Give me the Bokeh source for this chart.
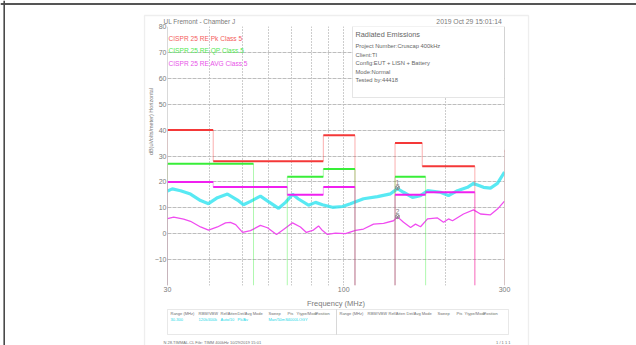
import math
from bokeh.plotting import figure
from bokeh.layouts import column
from bokeh.models import FixedTicker, Label, BoxAnnotation, Span, ColumnDataSource, Range1d
from bokeh.embed import file_html
from bokeh.resources import INLINE

NAN = float("nan")

# ---------------- data ----------------
# CISPR 25 Class 5 limit polylines (MHz, dBuV/m); -20 = drop to plot floor, NaN = break
pk_f  = [30, 30, 41, 41, 87, 87, 108, 108, NAN, 142, 142, 171, 171, 245, 245, NAN, 300, 300, 330]
pk_db = [-20, 40, 40, 28, 28, 38, 38, -20, NAN, -20, 35, 35, 26, 26, -20, NAN, -20, 32, 32]
qp_f  = [30, 30, 54, 54, NAN, 68, 68, 87, 87, 108, 108, NAN, 142, 142, 175, 175]
qp_db = [-20, 27, 27, -20, NAN, -20, 22, 22, 25, 25, -20, NAN, -20, 22, 22, -20]
av_f  = [30, 30, 41, 41, 68, 68, 87, 87, 108, 108, NAN, 142, 142, 175, 175, 245, 245]
av_db = [-20, 20, 20, 18, 18, 15, 15, 18, 18, -20, NAN, -20, 15, 15, 16, 16, -20]

# Peak (cyan) scan
pk_scan_f = [30.0, 31.0, 32.8, 35.1, 37.6, 39.7, 42.2, 45.2, 48.4, 50.4, 52.9, 56.6, 59.8,
             64.1, 67.2, 70.5, 73.4, 78.6, 82.5, 86.5, 92.6, 99.2, 104.7, 114.5, 126.0,
             137.7, 144.4, 150.5, 160.0, 169.0, 177.3, 193.7, 204.6, 217.6, 233.0, 242.7,
             259.9, 272.6, 285.9, 300.0]
pk_scan_db = [16.5, 17.3, 16.6, 15.3, 12.8, 11.6, 13.9, 15.3, 13.0, 11.2, 12.5, 14.5, 12.4,
              9.8, 12.1, 15.2, 13.4, 11.0, 12.1, 11.2, 10.2, 10.5, 11.6, 13.5, 14.3,
              15.4, 17.4, 16.0, 14.0, 14.7, 16.6, 16.0, 14.7, 16.6, 17.9, 19.4,
              17.9, 17.6, 19.4, 23.8]

# Average (magenta) scan
av_scan_f = [30.0, 31.3, 33.5, 35.1, 37.6, 39.7, 42.2, 44.6, 46.1, 47.8, 50.1, 52.9, 56.6,
             59.4, 63.2, 66.3, 70.5, 74.4, 77.5, 81.3, 84.2, 86.5, 89.5, 94.5, 101.2,
             108.4, 114.5, 122.6, 131.3, 140.5, 144.4, 150.5, 157.9, 163.3, 169.0, 177.3,
             189.8, 197.8, 204.6, 210.3, 226.7, 242.7, 254.6, 272.6, 285.9, 300.0]
av_scan_db = [5.8, 6.4, 5.6, 4.8, 2.6, 1.4, 2.6, 4.2, 4.4, 3.5, 0.5, 1.2, 3.2,
              2.3, -0.3, 1.6, 4.2, 2.6, 0.5, 1.4, 3.0, 1.2, -0.3, 0.2, 0.0,
              1.3, 1.8, 3.7, 4.0, 5.0, 6.5, 4.4, 2.4, 3.7, 2.7, 5.7,
              6.1, 4.4, 5.7, 5.0, 7.6, 9.2, 7.6, 7.3, 9.5, 12.6]

# markers
mk_f = [144.4, 144.4]
mk_db = [17.8, 6.6]
mk_txt = ["1", "2"]

x_ticks = [30, 100, 300]
x_grid = [40, 50, 60, 70, 80, 90, 100, 200]
y_ticks = [-10, 0, 10, 20, 30, 40, 50, 60, 70, 80]

legend_txt = ["CISPR 25 RE Pk Class 5", "CISPR 25 RE QP Class 5", "CISPR 25 RE AVG Class 5"]
info_title = "Radiated Emissions"
info_txt = ["Project Number:Cruscap 400kHz", "Client:TI", "Config:EUT + LISN + Battery",
            "Mode:Normal", "Tested by:44418"]
tbl_head = ["Range (MHz)", "RBW/VBW", "Ref/Atten", "Det/Avg Mode", "Sweep", "Pts", "Ytype/Mode", "Position"]
tbl_vals = ["30-300", "120k/400k", "Auto/10", "Pk/Av", "Man/50mS", "4000", "LOGY"]

# ---------------- styling ----------------
RED, GREEN, MAG, CYAN, AVGC = "#f43838", "#38ee38", "#f020f0", "#2ee4f0", "#f04cf0"
GRAY = "#7a7a7a"
FONT = "Liberation Sans"
W, H = 636, 345

# ---------- background figure (page decorations, pixel coordinates) ----------
bg = figure(width=W, height=H, x_range=Range1d(0, W), y_range=Range1d(H, 0),
            output_backend="svg", toolbar_location=None, min_border=0,
            x_axis_location=None, y_axis_location=None, title=None)
bg.frame_align = False
for g in bg.grid:
    g.visible = False
bg.outline_line_color = None
bg.background_fill_color = "white"
bg.border_fill_color = "white"

bg.add_layout(Span(location=3.5, dimension="width", line_color="#1c1c1c", line_width=1.6))
bg.add_layout(Span(location=3.7, dimension="height", line_color="#4a4a4a", line_width=1.6))
bg.add_layout(BoxAnnotation(left=144, right=528, top=15, bottom=400, fill_alpha=0,
                            line_color="#c6c6c6", line_width=1.3))
bg.add_layout(BoxAnnotation(left=167, right=336, top=309, bottom=334, fill_alpha=0,
                            line_color="#b4b4b4", line_width=1))
bg.add_layout(BoxAnnotation(left=336, right=508, top=309, bottom=334, fill_alpha=0,
                            line_color="#b4b4b4", line_width=1))

def blab(x, y, text, size="7px", color=GRAY, align="left", angle=0.0):
    bg.add_layout(Label(x=x, y=y, text=text, text_font=FONT, text_font_size=size,
                        text_color=color, text_align=align, text_baseline="middle", angle=angle))

blab(163, 20.5, "UL Fremont - Chamber J", size="6.5px")
blab(505, 20.5, "2019 Oct 29   15:01:14", size="6.8px", align="right")
blab(150, 121, "dB(uVolts/meter) Horizontal", size="5.5px", angle=math.pi / 2, align="center")
hx1 = [170, 198, 220, 237, 268, 287, 296, 315]
hx2 = [339, 367, 388, 406, 437, 456, 464, 483]
for t, a, b in zip(tbl_head, hx1, hx2):
    blab(a, 312.5, t, size="4px", color="#707070")
    blab(b, 312.5, t, size="4px", color="#707070")
for t, a in zip(tbl_vals, hx1):
    blab(a, 318.5, t, size="4px", color="#20d8e8")
blab(163, 341.5, "N   28.TIMMAL.CL   File: TIMM 400kHz   10/29/2019  15:01", size="4px", color="#707070")
blab(510, 341.5, "1 / 1 1 1", size="4px", color="#707070", align="right")

# ---------- main chart ----------
FR_L, FR_R, FR_T, FR_B = 167, 504, 26, 285
def fx(px):
    return 30 * 10 ** ((px - FR_L) / (FR_R - FR_L))
def fy(py):
    return 80 - (py - FR_T) * 100.0 / (FR_B - FR_T)

p = figure(width=W, height=H, x_axis_type="log", x_range=(30, 300), y_range=(-20, 80),
           output_backend="svg", toolbar_location=None,
           min_border_left=FR_L, min_border_right=W - FR_R,
           min_border_top=FR_T, min_border_bottom=H - FR_B)
p.frame_align = False
p.margin = (-H, 0, 0, 0)
p.outline_line_color = None
p.background_fill_color = "white"
p.border_fill_alpha = 0

p.xaxis.ticker = FixedTicker(ticks=x_ticks)
p.xaxis.major_label_overrides = {t: str(t) for t in x_ticks}
p.yaxis.ticker = FixedTicker(ticks=y_ticks)
for ax in (p.xaxis[0], p.yaxis[0]):
    ax.axis_line_color = None
    ax.major_tick_line_color = None
    ax.minor_tick_line_color = None
    ax.major_tick_out = 0
    ax.major_tick_in = 0
    ax.minor_tick_out = 0
    ax.major_label_text_color = GRAY
    ax.major_label_text_font = FONT
    ax.major_label_text_font_size = "7px"
p.xaxis.major_label_standoff = 1
p.yaxis.major_label_standoff = 1
p.xaxis.axis_label = "Frequency (MHz)"
p.xaxis.axis_label_text_font = FONT
p.xaxis.axis_label_text_font_style = "normal"
p.xaxis.axis_label_text_font_size = "7.5px"
p.xaxis.axis_label_text_color = GRAY
p.xaxis.axis_label_standoff = 4

p.xgrid.ticker = FixedTicker(ticks=x_grid)
p.xgrid.grid_line_color = "#9a9a9a"
p.xgrid.grid_line_dash = "1 2"
p.ygrid.ticker = FixedTicker(ticks=y_ticks)
p.ygrid.grid_line_color = "#bdbdbd"
p.ygrid.grid_line_dash = "4 1"

p.add_layout(Span(location=30, dimension="height", line_color="#b4b4b4", line_width=1))
p.add_layout(Span(location=300, dimension="height", line_color="#b4b4b4", line_width=1))

# info box (covers grid)
p.add_layout(BoxAnnotation(left=fx(352), right=300, top=80, bottom=fy(97), fill_color="white",
                           fill_alpha=1, line_color="#a8a8a8", line_width=1, level="underlay"))

# traces
p.line(pk_scan_f, pk_scan_db, line_color=CYAN, line_width=3.2, line_alpha=0.8)
p.line(av_scan_f, av_scan_db, line_color=AVGC, line_width=1.3)

def split(fs, ds):
    h = dict(x0=[], y0=[], x1=[], y1=[])
    v = dict(x0=[], y0=[], x1=[], y1=[])
    for i in range(len(fs) - 1):
        a, b, c, d = fs[i], fs[i + 1], ds[i], ds[i + 1]
        if any(math.isnan(t) for t in (a, b, c, d)):
            continue
        tgt = v if a == b else h
        tgt["x0"].append(a); tgt["x1"].append(b); tgt["y0"].append(c); tgt["y1"].append(d)
    return h, v

limits = ((pk_f, pk_db, RED), (qp_f, qp_db, GREEN), (av_f, av_db, MAG))
for fs, ds, col in limits:
    h, v = split(fs, ds)
    p.segment(x0="x0", y0="y0", x1="x1", y1="y1", source=ColumnDataSource(v),
              line_color=col, line_width=1, line_alpha=0.4)
for fs, ds, col in limits:
    h, v = split(fs, ds)
    p.segment(x0="x0", y0="y0", x1="x1", y1="y1", source=ColumnDataSource(h),
              line_color=col, line_width=2)

# markers
p.scatter(mk_f, mk_db, marker="circle_y", size=4, line_color="#888888", fill_color=None)
for f, d, t in zip(mk_f, mk_db, mk_txt):
    p.add_layout(Label(x=f, y=d, text=t, y_offset=3, text_font=FONT, text_font_size="7px",
                       text_color="#888888", text_align="center", text_baseline="bottom"))

def plab(px, py, text, size="7px", color=GRAY, align="left"):
    p.add_layout(Label(x=fx(px), y=fy(py), text=text, text_font=FONT, text_font_size=size,
                       text_color=color, text_align=align, text_baseline="middle"))

for t, py, col in zip(legend_txt, [38, 49.5, 62.5], ["#f45c5c", "#52e852", "#e852e8"]):
    plab(168, py, t, size="6.6px", color=col)
plab(355, 34, info_title, size="7.3px", color="#666666")
for t, py in zip(info_txt, [45.5, 54, 62.5, 71, 79.5]):
    plab(355, py, t, size="5.8px", color="#666666")

layout = column(bg, p)
open("out.html", "w").write(file_html(layout, INLINE))
